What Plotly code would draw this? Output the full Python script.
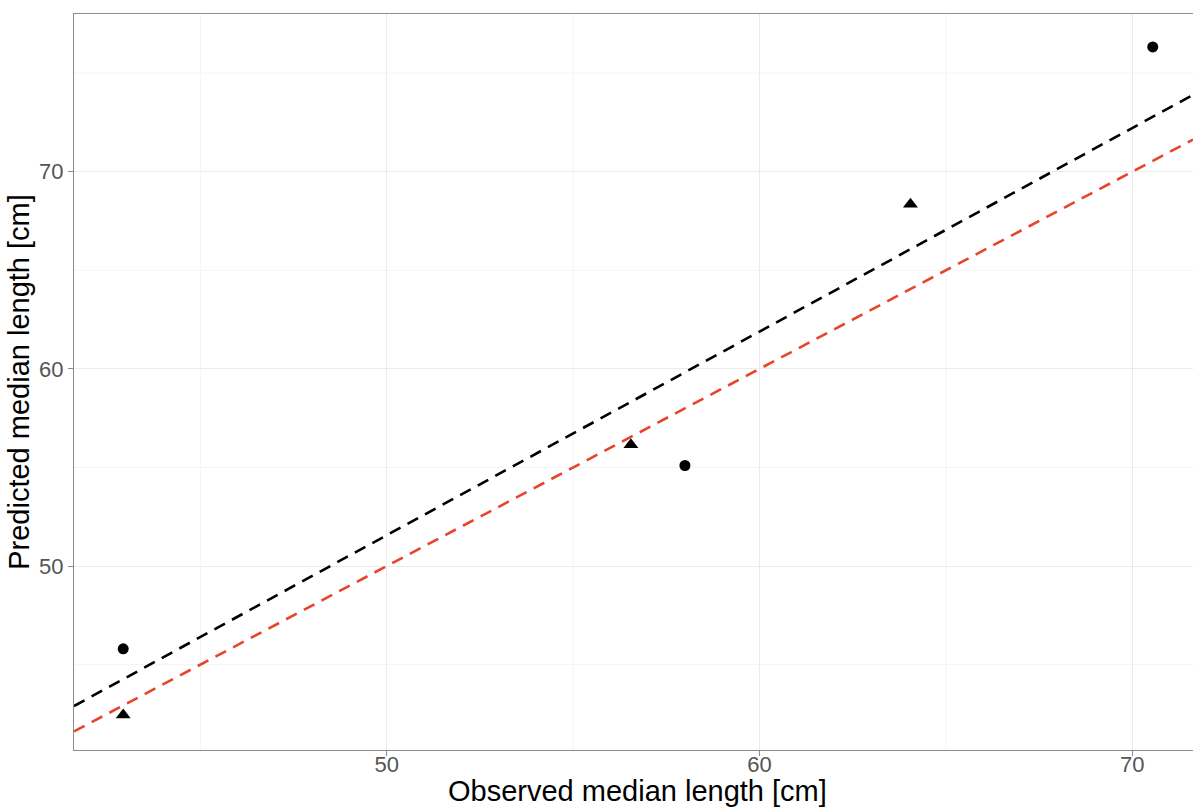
import plotly.graph_objects as go

# Data
obs_circle = [42.93, 58.0, 70.55]
pred_circle = [45.8, 55.1, 76.33]
obs_triangle = [42.93, 56.55, 64.05]
pred_triangle = [42.45, 56.15, 68.35]

line_x = [41.61, 71.63]
fit_y = [42.9, 73.9]          # fitted (black dashed) line
one_to_one_y = [41.61, 71.63]  # 1:1 (red dashed) line

x_ticks = [50, 60, 70]
y_ticks = [50, 60, 70]
x_minor = [45, 55, 65]
y_minor = [45, 55, 65, 75]

x_title = "Observed median length [cm]"
y_title = "Predicted median length [cm]"

FONT = "Liberation Sans, Arial, sans-serif"

fig = go.Figure()

fig.add_trace(go.Scatter(x=line_x, y=fit_y, mode="lines",
                         line=dict(color="black", width=2.6, dash="12px,8px"),
                         showlegend=False, hoverinfo="skip"))
fig.add_trace(go.Scatter(x=line_x, y=one_to_one_y, mode="lines",
                         line=dict(color="#E8442C", width=2.6, dash="12px,8px"),
                         showlegend=False, hoverinfo="skip"))
fig.add_trace(go.Scatter(x=obs_circle, y=pred_circle, mode="markers",
                         marker=dict(symbol="circle", size=11, color="black"),
                         showlegend=False))
fig.add_trace(go.Scatter(x=obs_triangle, y=pred_triangle, mode="markers",
                         marker=dict(symbol="triangle-up", size=13, color="black"),
                         showlegend=False))

# minor gridlines as shapes
for v in x_minor:
    fig.add_shape(type="line", xref="x", yref="paper", x0=v, x1=v, y0=0, y1=1,
                  line=dict(color="#F4F4F4", width=1), layer="below")
for v in y_minor:
    fig.add_shape(type="line", xref="paper", yref="y", x0=0, x1=1, y0=v, y1=v,
                  line=dict(color="#F4F4F4", width=1), layer="below")

axis_common = dict(
    showgrid=True, gridcolor="#EBEBEB", gridwidth=1.1,
    zeroline=False, showline=True, linecolor="#8C8C8C", linewidth=1.3,
    ticks="outside", ticklen=5, tickcolor="#8C8C8C", tickwidth=1.1,
    tickfont=dict(family=FONT, size=22, color="#555555"),
)

# x-axis title placed as an annotation right at the bottom edge
fig.add_annotation(text=x_title, xref="paper", yref="paper",
                   x=0.5, y=-58 / 736, xanchor="center", yanchor="bottom",
                   xshift=4, showarrow=False, borderpad=0,
                   font=dict(family=FONT, size=29, color="black"))

fig.update_layout(
    width=1193, height=808,
    margin=dict(l=74, r=0, t=14, b=58),
    paper_bgcolor="white", plot_bgcolor="white",
    xaxis=dict(range=[41.61, 71.63], tickvals=x_ticks, mirror=True,
               ticklabelstandoff=-11,
               **axis_common),
    yaxis=dict(range=[40.67, 78.0], tickvals=y_ticks,
               title=dict(text=y_title, standoff=0,
                          font=dict(family=FONT, size=29, color="black")),
               **axis_common),
)

fig.write_html("out.html", config={"displayModeBar": False},
               post_script="document.body.style.margin='0';document.body.style.overflow='hidden';")
